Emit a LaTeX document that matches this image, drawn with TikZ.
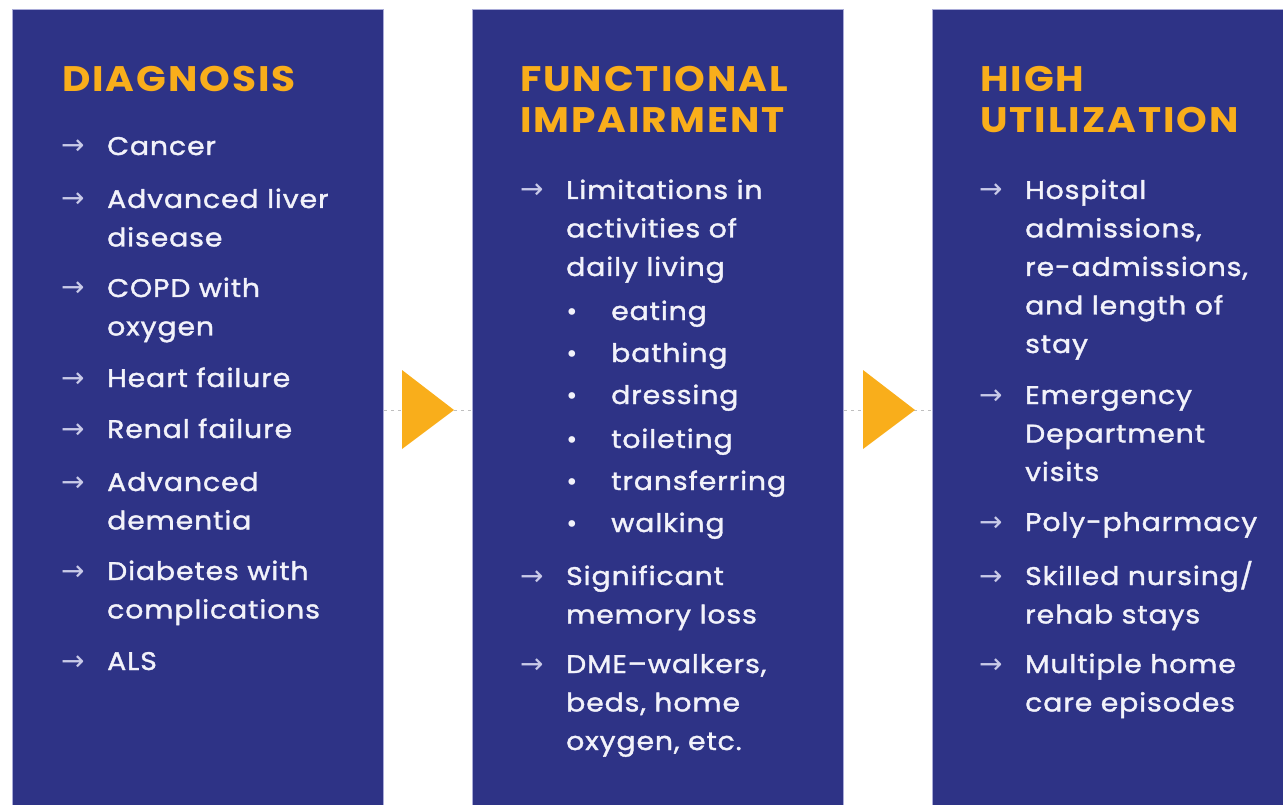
\documentclass[tikz,border=0pt]{standalone}
\usepackage{fontspec}
\setmainfont{Poppins}
\newfontfamily\bodyfont{Poppins}[FakeBold=1.4, FakeStretch=1.11, LetterSpace=3.5]
\newfontfamily\headfont{Poppins Bold}[FakeStretch=1.1, LetterSpace=5.5]
\newfontfamily\symfont{DejaVu Sans}
\definecolor{panelblue}{HTML}{2E3386}
\definecolor{panelrim}{HTML}{A9ABD8}
\definecolor{headgold}{HTML}{F9AE1B}
\definecolor{itemwhite}{HTML}{F2F2FA}
\definecolor{pointergrey}{HTML}{C9CAE8}
\newcommand{\itemlines}[1]{\begin{tabular}[t]{@{}l@{}}#1\end{tabular}}
\tikzset{
  panel/.style={fill=panelblue, draw=panelrim, line width=0.8pt, anchor=north west,
    minimum width=371, minimum height=812, inner sep=0pt},
  head/.style={anchor=base west, inner sep=0pt, text=headgold,
    font=\headfont\fontsize{35.5}{41}\selectfont},
  item/.style={anchor=base west, inner sep=0pt, text=itemwhite,
    font=\bodyfont\fontsize{25.5}{38.5}\selectfont},
  pointer/.style={anchor=base west, inner sep=0pt, text=pointergrey,
    font=\symfont\fontsize{28}{28}\selectfont},
  bulletdot/.style={anchor=base west, inner sep=0pt, text=itemwhite,
    font=\symfont\fontsize{23}{23}\selectfont},
  link/.style={draw=black!25, dashed, dash pattern=on 3pt off 4pt, line width=0.8pt},
  wedge/.style={fill=headgold}
}
\begin{document}
\begin{tikzpicture}[x=1pt,y=-1pt]
  \useasboundingbox (0,0) rectangle (1283,805);

  \node[panel] (diag) at (12,9) {};
  \node[panel] (func) at (472,9) {};
  \node[panel, minimum width=380] (util) at (932,9) {};

  \coordinate (m1) at (0,410);
  \draw[link] (diag.east |- m1) -- (func.west |- m1);
  \draw[link] (func.east |- m1) -- (util.west |- m1);
  \fill[wedge] (402,370) -- (454,410) -- (402,449) -- cycle;
  \fill[wedge] (863,370) -- (915,410) -- (863,449) -- cycle;

  \node[head] (h1) at (62,92) {\itemlines{DIAGNOSIS}};
  \node[head] (h2) at (520,92) {\itemlines{FUNCTIONAL\\IMPAIRMENT}};
  \node[head] (h3) at (980,92) {\itemlines{HIGH\\UTILIZATION}};

  \foreach \y/\t [count=\i] in {155/Cancer, 208/{Advanced liver\\disease},
      297/{COPD with\\oxygen}, 387/Heart failure, 438/Renal failure,
      491/{Advanced\\dementia}, 580/{Diabetes with\\complications}, 670/ALS}{
    \node[pointer] (dp\i) at (61,\y) {→};
    \node[item] (d\i) at (107,\y) {\itemlines{\t}};
  }

  \foreach \y/\t [count=\i] in {199/{Limitations in\\activities of\\daily living},
      585/{Significant\\memory loss}, 673/{DME–walkers,\\beds, home\\oxygen, etc.}}{
    \node[pointer] (fp\i) at (520,\y) {→};
    \node[item] (f\i) at (566,\y) {\itemlines{\t}};
  }
  \foreach \y/\t [count=\i] in {320/eating, 362/bathing, 404/dressing,
      448/toileting, 490/transferring, 532/walking}{
    \node[bulletdot] (fb\i) at (565,\y) {•};
    \node[item] (s\i) at (611,\y) {\t};
  }

  \foreach \y/\t [count=\i] in {199/{Hospital\\admissions,\\re-admissions,\\and length of\\stay},
      404/{Emergency\\Department\\visits}, 531/Poly-pharmacy,
      585/{Skilled nursing/\\rehab stays}, 673/{Multiple home\\care episodes}}{
    \node[pointer] (up\i) at (979,\y) {→};
    \node[item] (u\i) at (1025,\y) {\itemlines{\t}};
  }
\end{tikzpicture}
\end{document}
